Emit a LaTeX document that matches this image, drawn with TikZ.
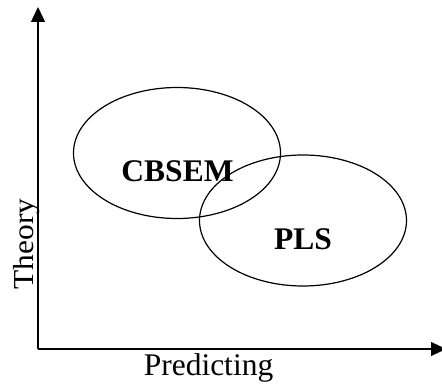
\documentclass[tikz,border=0pt]{standalone}
\usepackage{fontspec}
\setmainfont{Liberation Serif}
\usetikzlibrary{arrows.meta,shapes.geometric}
\begin{document}
\begin{tikzpicture}[x=1pt,y=-1pt,
  axis/.style={line width=1.3pt,-{Triangle[width=14pt,length=15pt]}},
  blob/.style={ellipse,draw,line width=1.2pt,inner sep=0pt,minimum width=207pt,minimum height=131pt},
  lbl/.style={font=\fontsize{31.5}{36}\selectfont\bfseries,inner sep=0pt,anchor=base},
  axlbl/.style={font=\fontsize{31.5}{36}\selectfont,inner sep=0pt,anchor=base}]
\useasboundingbox (0,0) rectangle (442,385);
\coordinate (o) at (38,349);
\coordinate (ytip) at (38,7);
\coordinate (xtip) at (446,349);
\draw[axis] (o) -- (ytip);
\draw[axis] (o) -- (xtip);
\node[blob] (cbe) at (177,153) {};
\node[blob] (plse) at (303,220.5) {};
\node[lbl] (cb) at (177.5,182) {CBSEM};
\node[lbl] (pls) at (303,249) {PLS};
\node[axlbl] (pred) at (208.5,375) {Predicting};
\node[axlbl,rotate=90] (th) at (33,244) {\scalebox{1}[0.92]{Theory}};
\end{tikzpicture}
\end{document}
